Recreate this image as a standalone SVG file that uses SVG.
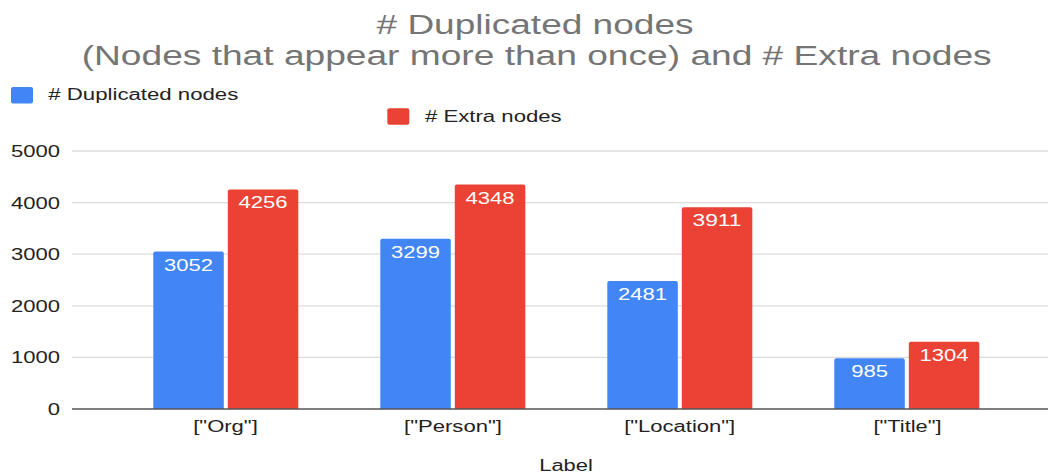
<svg xmlns="http://www.w3.org/2000/svg" width="1048" height="473" viewBox="0 0 1048 473">
<style>
text{font-family:"Liberation Sans",Arial,sans-serif;}
.title{font-size:27px;fill:#757575;text-anchor:middle;}
.leg{font-size:16px;fill:#222;}
.ax{font-size:16px;fill:#222;}
.yl{text-anchor:end;}
.xl{text-anchor:middle;}
.dl{font-size:16px;fill:#fff;text-anchor:middle;}
.grid{stroke:#dcdcdc;stroke-width:1.3;}
.blue{fill:#4285F4;}
.red{fill:#EA4335;}
</style>
<rect width="1048" height="473" fill="#fff"/>
<g id="title">
<text class="title" x="535" y="33.5" textLength="317" lengthAdjust="spacingAndGlyphs"># Duplicated nodes</text>
<text class="title" x="536.7" y="65" textLength="910" lengthAdjust="spacingAndGlyphs">(Nodes that appear more than once) and # Extra nodes</text>
</g>
<g id="legend">
<rect class="blue" x="11" y="87" width="22" height="16.5" rx="2"/>
<text class="leg" x="48.3" y="100" textLength="190" lengthAdjust="spacingAndGlyphs"># Duplicated nodes</text>
<rect class="red" x="387.3" y="108.3" width="22" height="16.5" rx="2"/>
<text class="leg" x="425" y="121.7" textLength="136.7" lengthAdjust="spacingAndGlyphs"># Extra nodes</text>
</g>
<g id="gridlines">
<line class="grid" x1="72" y1="151" x2="1048" y2="151"/>
<line class="grid" x1="72" y1="202.6" x2="1048" y2="202.6"/>
<line class="grid" x1="72" y1="254.2" x2="1048" y2="254.2"/>
<line class="grid" x1="72" y1="305.8" x2="1048" y2="305.8"/>
<line class="grid" x1="72" y1="357.4" x2="1048" y2="357.4"/>
</g>
<g id="y-axis">
<text class="ax yl" x="60" y="157" textLength="49" lengthAdjust="spacingAndGlyphs">5000</text>
<text class="ax yl" x="60" y="208.6" textLength="49" lengthAdjust="spacingAndGlyphs">4000</text>
<text class="ax yl" x="60" y="260.2" textLength="49" lengthAdjust="spacingAndGlyphs">3000</text>
<text class="ax yl" x="60" y="311.8" textLength="49" lengthAdjust="spacingAndGlyphs">2000</text>
<text class="ax yl" x="60" y="363.4" textLength="49" lengthAdjust="spacingAndGlyphs">1000</text>
<text class="ax yl" x="60" y="415" textLength="12.3" lengthAdjust="spacingAndGlyphs">0</text>
</g>
<g id="bars-duplicated">
<path class="blue" d="M153.3,409 V253.5 Q153.3,251.5 155.3,251.5 H221.8 Q223.8,251.5 223.8,253.5 V409 Z"/>
<path class="blue" d="M380.3,409 V240.8 Q380.3,238.8 382.3,238.8 H448.8 Q450.8,238.8 450.8,240.8 V409 Z"/>
<path class="blue" d="M607.3,409 V283 Q607.3,281 609.3,281 H675.8 Q677.8,281 677.8,283 V409 Z"/>
<path class="blue" d="M834.3,409 V360.2 Q834.3,358.2 836.3,358.2 H902.8 Q904.8,358.2 904.8,360.2 V409 Z"/>
</g>
<g id="bars-extra">
<path class="red" d="M227.8,409 V191.4 Q227.8,189.4 229.8,189.4 H296.3 Q298.3,189.4 298.3,191.4 V409 Z"/>
<path class="red" d="M454.8,409 V186.6 Q454.8,184.6 456.8,184.6 H523.3 Q525.3,184.6 525.3,186.6 V409 Z"/>
<path class="red" d="M681.8,409 V209.2 Q681.8,207.2 683.8,207.2 H750.3 Q752.3,207.2 752.3,209.2 V409 Z"/>
<path class="red" d="M908.8,409 V343.7 Q908.8,341.7 910.8,341.7 H977.3 Q979.3,341.7 979.3,343.7 V409 Z"/>
</g>
<g id="data-labels">
<text class="dl" x="188.6" y="270.5" textLength="49" lengthAdjust="spacingAndGlyphs">3052</text>
<text class="dl" x="263" y="208.4" textLength="49" lengthAdjust="spacingAndGlyphs">4256</text>
<text class="dl" x="415.6" y="257.8" textLength="49" lengthAdjust="spacingAndGlyphs">3299</text>
<text class="dl" x="490" y="203.6" textLength="49" lengthAdjust="spacingAndGlyphs">4348</text>
<text class="dl" x="642.6" y="300" textLength="49" lengthAdjust="spacingAndGlyphs">2481</text>
<text class="dl" x="717" y="226.2" textLength="49" lengthAdjust="spacingAndGlyphs">3911</text>
<text class="dl" x="869.6" y="377.2" textLength="36.9" lengthAdjust="spacingAndGlyphs">985</text>
<text class="dl" x="944" y="360.7" textLength="49" lengthAdjust="spacingAndGlyphs">1304</text>
</g>
<g id="x-axis">
<line x1="72" y1="409" x2="1048" y2="409" stroke="#555" stroke-width="1.5"/>
<text class="ax xl" x="225.5" y="432.3" textLength="64.5" lengthAdjust="spacingAndGlyphs">["Org"]</text>
<text class="ax xl" x="453" y="432.3" textLength="98" lengthAdjust="spacingAndGlyphs">["Person"]</text>
<text class="ax xl" x="679.7" y="432.3" textLength="111" lengthAdjust="spacingAndGlyphs">["Location"]</text>
<text class="ax xl" x="907.5" y="432.3" textLength="68" lengthAdjust="spacingAndGlyphs">["Title"]</text>
<text class="ax xl" x="566" y="470.5" textLength="53.5" lengthAdjust="spacingAndGlyphs">Label</text>
</g>
</svg>
